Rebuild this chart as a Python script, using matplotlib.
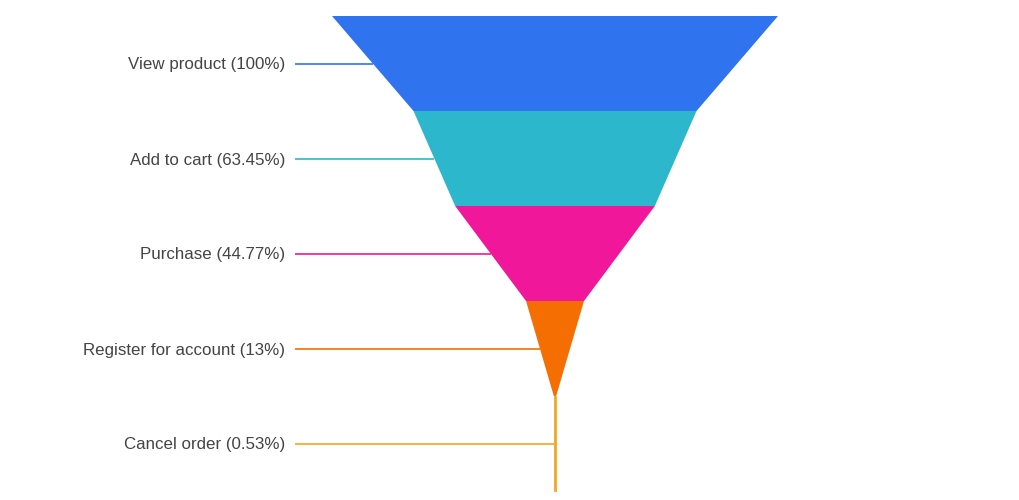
import matplotlib
matplotlib.use("Agg")
import matplotlib.pyplot as plt
from matplotlib.patches import Polygon

stages = ["View product", "Add to cart", "Purchase", "Register for account", "Cancel order"]
values = [100, 63.45, 44.77, 13, 0.53]
colors = ["#2f73ee", "#2cb7cc", "#f0179a", "#f56e02", "#f5a623"]

fig = plt.figure(figsize=(10.2, 5), dpi=100)
ax = fig.add_axes([0, 0, 1, 1])
ax.set_xlim(0, 1020)
ax.set_ylim(500, 0)
ax.axis("off")

cx = 555
scale = 446 / 100.0
top = 16
h = 95
label_x = 285
line_start = 295

for i, (name, v, c) in enumerate(zip(stages, values, colors)):
    nxt = values[i + 1] if i + 1 < len(values) else v
    y0 = top + i * h
    y1 = y0 + h
    wt = v * scale / 2
    wb = nxt * scale / 2
    poly = Polygon([(cx - wt, y0), (cx + wt, y0), (cx + wb, y1), (cx - wb, y1)],
                   closed=True, facecolor=c, edgecolor=c if v < 2 else "none",
                   linewidth=0.6 if v < 2 else 0)
    ax.add_patch(poly)
    ym = y0 + h / 2
    edge = cx - (wt + wb) / 2
    ax.plot([line_start, edge], [ym, ym], color=c, lw=1.2, solid_capstyle="butt")
    ax.text(label_x, ym, f"{name} ({v:g}%)", ha="right", va="center_baseline",
            fontsize=12.2, color="#444444", family=["Liberation Sans", "DejaVu Sans"])

fig.savefig("out.png", dpi=100, facecolor="white")
